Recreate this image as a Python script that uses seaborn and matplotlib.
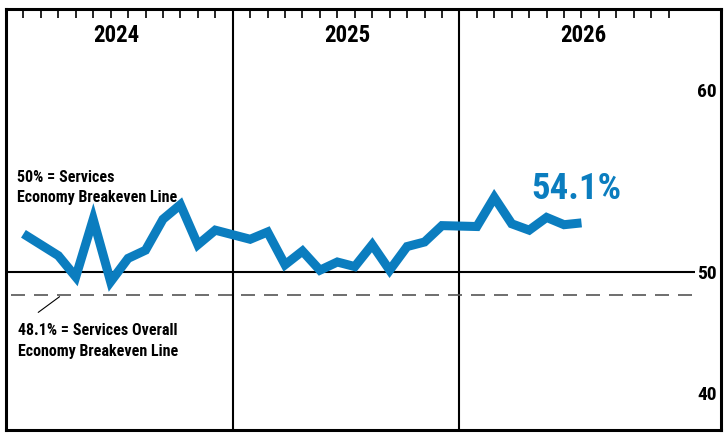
import numpy as np
import pandas as pd
import seaborn as sns
import matplotlib.pyplot as plt

# Dados (índice mensal, %)
years = [2024, 2025, 2026]
values_2024 = [52.1, 51.5, 50.9, 49.6, 52.9, 49.2, 50.75, 51.2, 52.9, 53.7, 51.5, 52.3]
values_2025 = [51.8, 52.2, 50.4, 51.15, 50.1, 50.55, 50.3, 51.5, 50.1, 51.4, 51.65, 52.55]
values_2026 = [52.5, 54.1, 52.65, 52.3, 53.0, 52.6, 52.7]
breakeven_services = 50.0
breakeven_overall = 48.1
latest_label = '54.1%'
y_ticks = [40, 50, 60]

blue = '#0b7dbf'
font = ['Roboto Condensed', 'Liberation Sans', 'DejaVu Sans']

rows = []
for i, vals in enumerate([values_2024, values_2025, values_2026]):
    for m, v in enumerate(vals, start=1):
        rows.append({'year': years[i], 'month': m, 'x': 13 * i + m, 'value': v})
df = pd.DataFrame(rows)

sns.set_style('white')
plt.rcParams['font.family'] = font
plt.rcParams['text.color'] = 'black'
plt.rcParams['ytick.color'] = 'black'
plt.rcParams['ytick.labelcolor'] = 'black'

fig = plt.figure(figsize=(7.27, 4.44), dpi=100)
ax = fig.add_axes([6 / 727, 1 - 430 / 444, 715 / 727, 421 / 444])

# escala: abaixo de 50 comprimida
k = 0.665
def fwd(v):
    v = np.asarray(v, dtype=float)
    return np.where(v >= 50, v - 50, (v - 50) * k)
def inv(t):
    t = np.asarray(t, dtype=float)
    return np.where(t >= 0, t + 50, t / k + 50)
ax.set_yscale('function', functions=(fwd, inv))

sns.lineplot(data=df, x='x', y='value', ax=ax, color=blue, linewidth=6.5,
             solid_joinstyle='miter', solid_capstyle='butt', zorder=5)

ax.set_xlim(0, 41)
ax.set_ylim(36.95, 64.45)

# linhas de referência
ax.hlines(breakeven_services, 0, 39.5, color='black', lw=1.5, zorder=3)
dash = ax.hlines(breakeven_overall, 0.3, 39.5, color='#555555', lw=1.2, zorder=3)
dash.set_linestyle((0, (14 / 1.2 * 0.72, 9 / 1.2 * 0.72)))
for i in range(1, 3):
    ax.axvline(13 * i, color='black', lw=1.5, zorder=2)

# ticks de meses no topo
ax.set_xticks([13 * i + m for i in range(3) for m in range(1, 13)])
ax.tick_params(axis='x', top=True, bottom=False, direction='in', length=6.5,
               width=1.2, color='black', labeltop=False, labelbottom=False)
ax.set_yticks(y_ticks)
ax.set_yticklabels([str(t) for t in y_ticks])
ax.tick_params(axis='y', left=False, right=False, labelleft=False, labelright=True,
               pad=-6.5, labelsize=14)
for lbl in ax.get_yticklabels():
    lbl.set_ha('right')
    lbl.set_fontweight('bold')
    lbl.set_family(font)
ax.set_xlabel('')
ax.set_ylabel('')

for s in ax.spines.values():
    s.set_visible(True)
    s.set_color('black')
    s.set_linewidth(2.2)

# anos
for x, yr in zip([6.3, 19.6, 33.1], years):
    ax.text(x, 62.97, str(yr), ha='center', va='center', fontsize=16.5,
            fontweight='bold', family=font)

ax.text(0.63, 54.64, '50% = Services\nEconomy Breakeven Line', ha='left', va='center',
        fontsize=11.5, fontweight='bold', family=font, linespacing=1.45)
ax.text(0.69, 44.3, '48.1% = Services Overall\nEconomy Breakeven Line', ha='left', va='center',
        fontsize=11.5, fontweight='bold', family=font, linespacing=1.45)
ax.annotate('', xy=(3.2, breakeven_overall), xytext=(1.72, 46.53),
            arrowprops=dict(arrowstyle='-', lw=0.8, color='black'))

ax.text(32.7, 54.55, latest_label, ha='center', va='center', fontsize=26.5,
        fontweight='bold', color=blue, family=font)

fig.savefig('out.png', dpi=100)
